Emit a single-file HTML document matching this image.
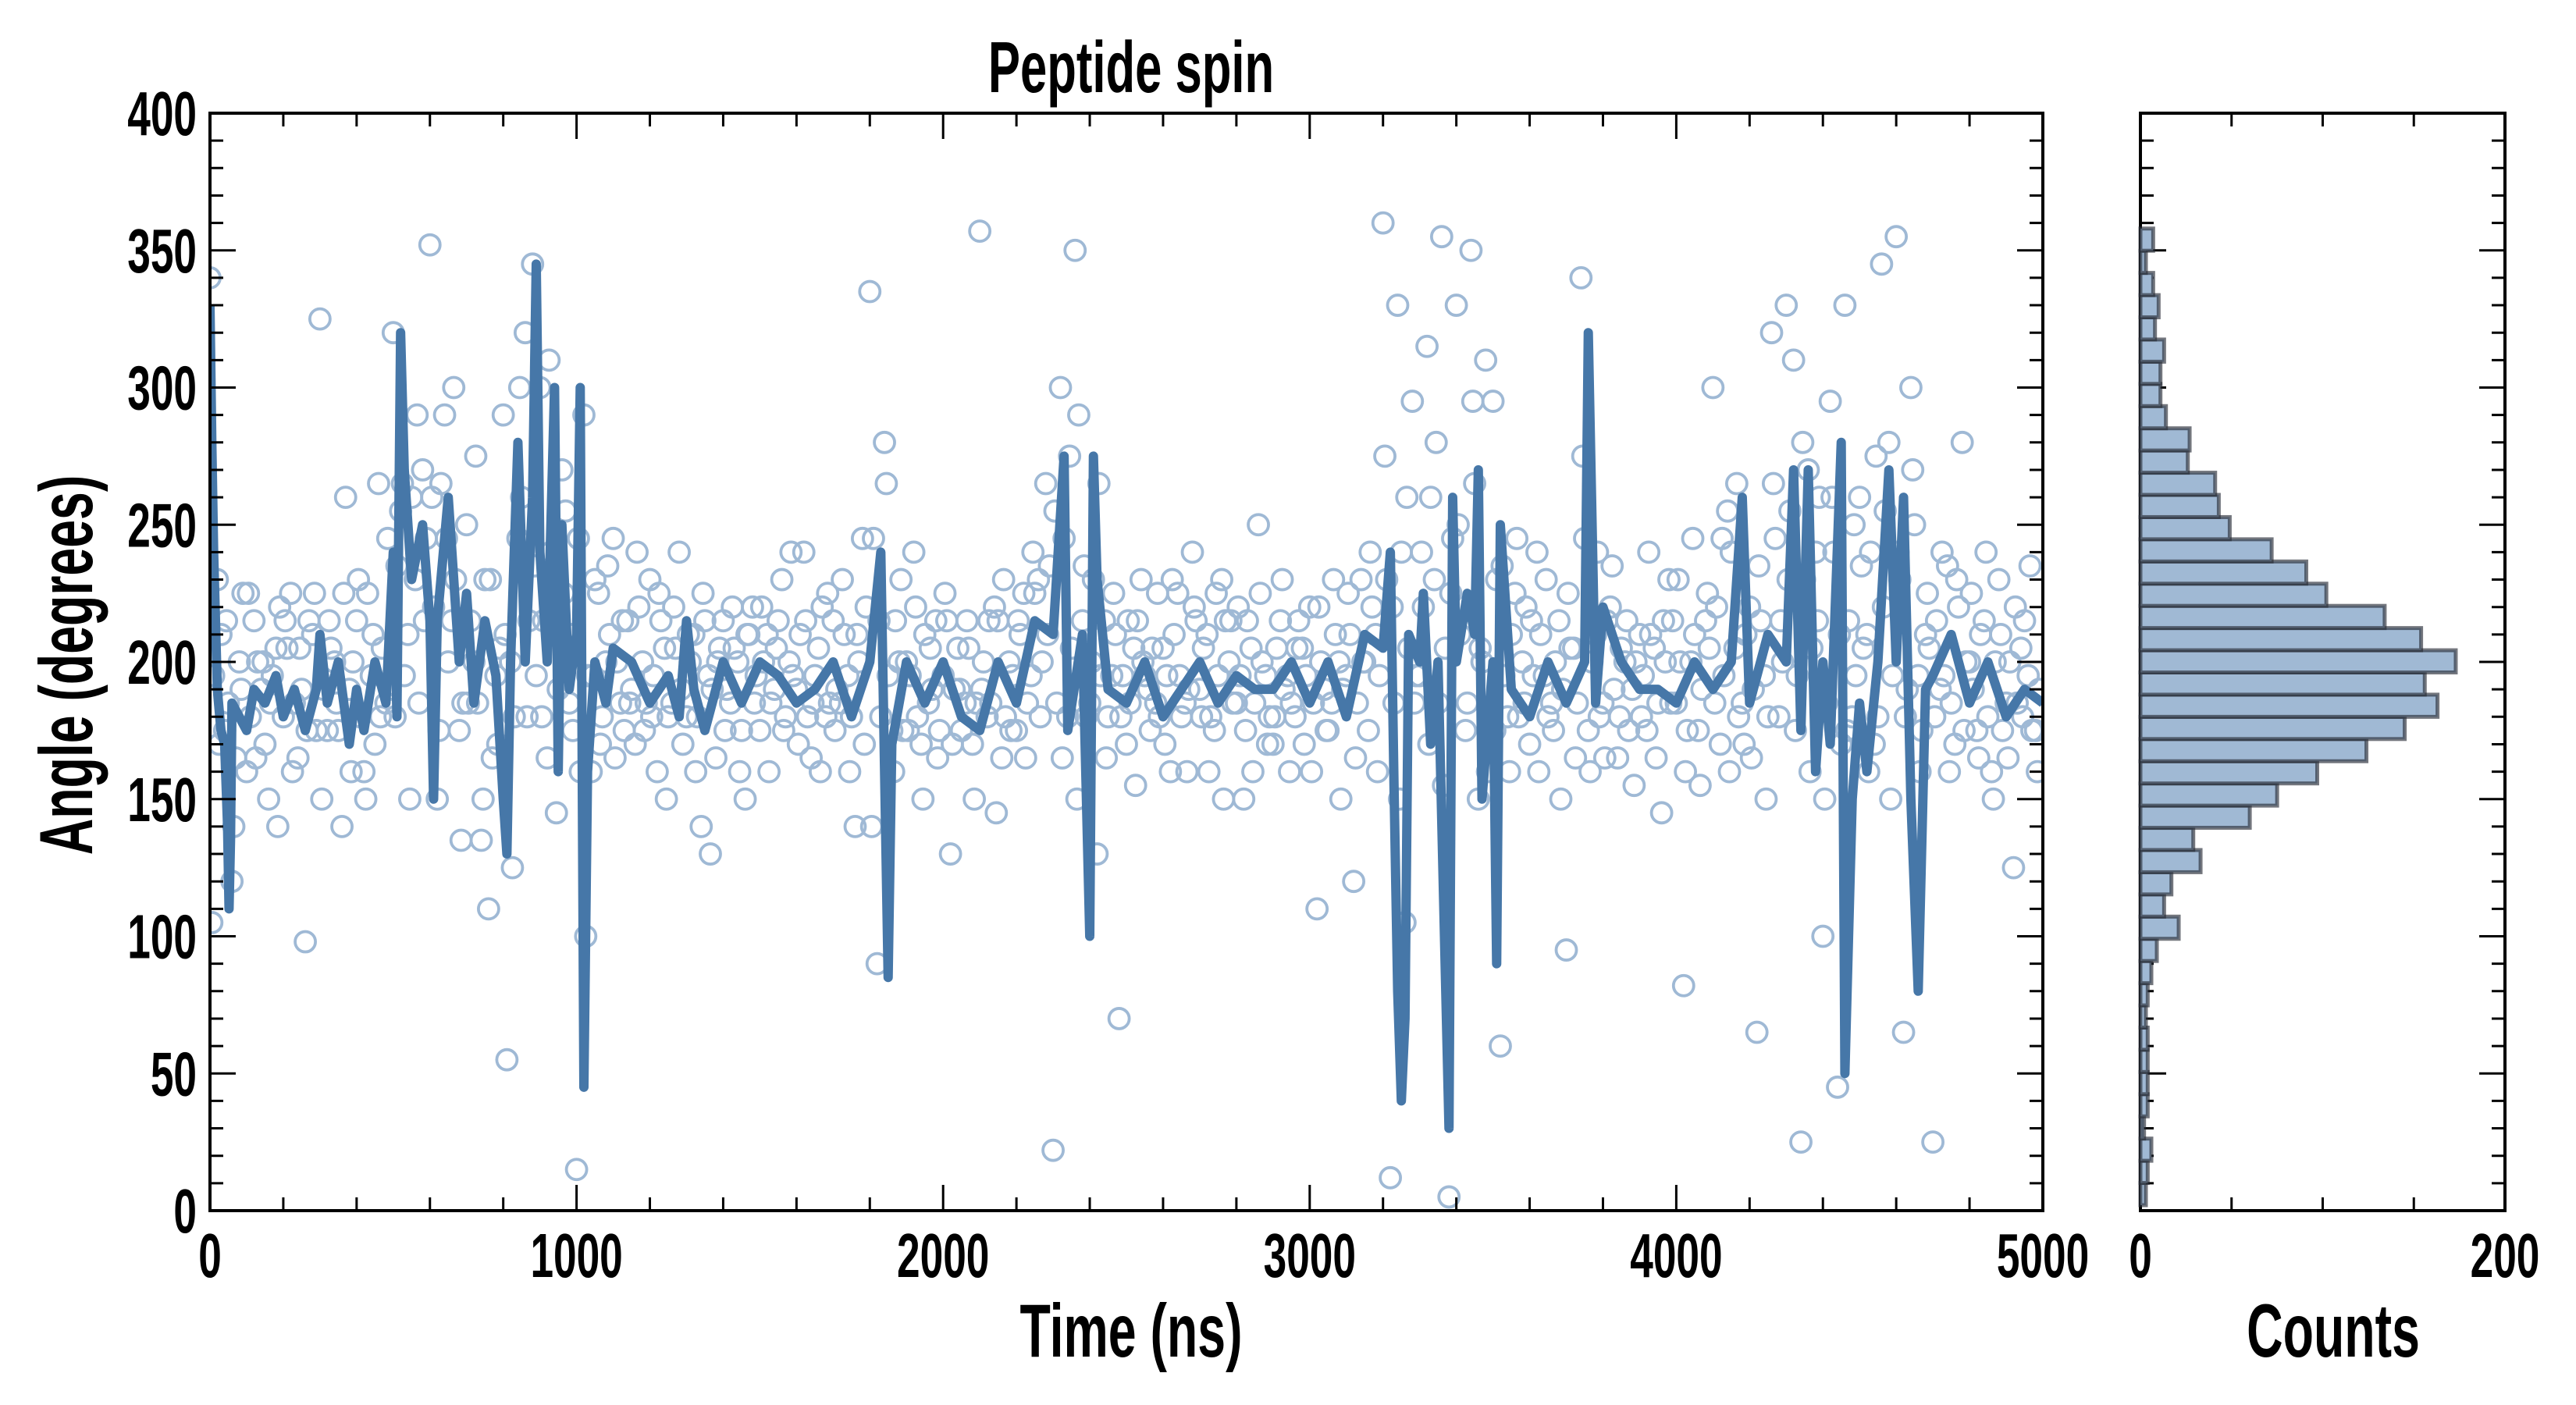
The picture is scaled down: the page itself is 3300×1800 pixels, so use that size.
<!DOCTYPE html>
<html><head><meta charset="utf-8"><style>
html,body{margin:0;padding:0;background:#fff;}
svg{display:block;}
text{font-family:"Liberation Sans Narrow","Liberation Sans",sans-serif;font-weight:bold;fill:#000;}
</style></head><body>
<svg id="chart" width="3300" height="1800" viewBox="0 0 3300 1800" xmlns="http://www.w3.org/2000/svg">
<g id="main-plot"></g>
<g id="hist-plot"></g>
<g id="labels"></g>
</svg>
<script>
// ---- data ----
const scatterStep = 20;
const scatterA1 = [340,230,175,120,200, 160,215,190,150,205, 180,225,165,98,210, 325,175,200,140,190, 215,160,195,265,185,
320,255,210,230,270, 352,150,290,215,175, 250,200,135,110,195, 290,200,245,320,345, 300,165,230,270,185,
15,290,160,225,200, 245,185,215,170,200, 230,160,205,185,240, 180,210,140,195,165, 215,185,200,150,220,
175,210,190,230,200, 190,240,165,205,180, 215,185,195,140,245, 335,90,280,175,200, 200,240,170,185,215,
195,130,205,185,170, 357,180,220,165,200, 175,225,195,230,265, 22,300,180,350,215, 185,130,215,195,70,
170,205,230,190,185, 205,160,225,185,240, 190,210,175,230,200, 185,150,205,250,195, 170,215,195,180,205,
220,110,190,185,200, 195,120,230,175,210, 360,12,330,105,295, 195,315,230,355,5, 330,220,350,150,310,
295,60,180,225,200, 170,240,195,185,215, 95,205,340,175,210, 185,220,165,200,190, 210,175,205,145,230,
185,82,200,175,215, 300,170,255,205,185, 220,65,195,320,180, 330,310,25,270,240, 100,295,45,330,180,
260,210,170,345,280, 355,65,300,195,210, 25,190,235,170,280, 200,175,215,160,230, 185,125,205,195,175];
const scatterA2 = [195,210,185,165,225, 180,200,170,195,220, 205,185,190,215,175, 190,205,175,260,200, 180,225,170,205,190,
235,195,260,185,245, 220,265,200,230,185, 215,185,230,165,205, 55,180,260,215,195, 215,240,190,255,175,
160,195,230,180,210, 200,175,190,220,185, 195,215,180,205,170, 200,180,215,190,205, 190,205,175,210,195,
200,185,215,180,195, 210,180,195,220,185, 190,210,180,200,220, 245,180,195,215,175, 195,180,210,190,175,
215,190,175,205,185, 200,185,215,180,195, 210,185,225,200,235, 185,245,205,290,180, 230,195,180,210,195,
185,215,195,205,180, 195,210,180,190,215, 205,180,195,215,185, 195,215,185,200,180, 205,190,185,215,195,
185,200,175,210,190, 210,185,200,220,195, 230,185,240,205,195, 220,260,185,205,245, 210,185,265,200,175,
230,195,210,180,220, 195,210,180,200,190, 205,185,245,200,180, 215,190,205,175,200, 195,210,185,200,215,
200,175,210,190,205, 220,195,240,180,210, 190,215,180,245,200, 255,195,230,205,260, 185,240,170,215,195,
205,240,180,255,195, 230,190,250,175,205, 215,195,185,220,200, 190,210,180,200,175, 200,185,215,175,190];
const scatterA3 = [105,170,215,140,190, 225,165,200,185,140, 215,160,205,175,225, 150,215,185,225,160, 230,150,210,180,245,
180,265,150,290,215, 260,175,245,300,135, 185,275,150,230,170, 210,125,300,180,235, 180,310,145,225,210,
245,100,195,170,235, 165,215,185,240,175, 180,225,150,220,190, 210,160,225,130,200, 175,220,160,210,185,
220,160,205,175,240, 170,215,185,160,225, 175,230,160,210,170, 140,215,265,160,230, 175,220,150,205,165,
225,170,190,215,150, 190,215,145,230,175, 215,165,240,180,210, 255,165,275,150,235, 200,265,165,225,180,
215,155,200,175,225, 170,230,195,160,220, 180,160,225,150,215, 220,175,160,225,170, 180,230,160,205,170,
160,220,175,230,150, 225,165,200,240,160, 275,220,150,260,185, 240,170,280,155,225, 250,175,295,205,160,
175,235,160,245,185, 215,160,230,175,150, 225,165,275,160,240, 165,235,180,215,155, 180,240,165,215,185,
230,160,245,155,225, 185,245,160,265,170, 165,235,150,265,215, 230,175,280,160,215, 150,260,210,175,250,
235,160,275,220,150, 240,180,270,160,225, 180,240,160,230,175, 225,165,240,150,210, 165,220,180,235,160];
const lineT = [0,5,10,20,30,40,48,52,56,60,80,100,120,150,180,200,230,260,290,300,320,350,380,400,420,450,480,500,510,520,530,550,580,600,610,620,650,680,700,720,750,780,800,810,820,840,860,880,890,900,920,940,950,960,980,1000,1010,1020,1030,1050,1080,1100,1150,1200,1250,1280,1300,1320,1350,1400,1450,1500,1550,1600,1650,1700,1750,1800,1830,1850,1860,1900,1950,2000,2050,2100,2150,2200,2250,2300,2330,2340,2380,2400,2410,2420,2450,2500,2550,2600,2650,2700,2750,2800,2850,2900,2950,3000,3050,3100,3150,3200,3220,3230,3240,3250,3260,3270,3300,3310,3330,3350,3380,3390,3400,3430,3450,3460,3470,3500,3510,3520,3550,3600,3650,3700,3750,3760,3780,3800,3850,3900,3950,4000,4050,4100,4150,4180,4200,4250,4300,4320,4340,4360,4380,4400,4420,4450,4460,4480,4500,4520,4550,4580,4600,4620,4640,4660,4680,4700,4750,4800,4850,4900,4950,5000];
const lineA = [330,280,240,190,175,170,140,110,135,185,180,175,190,185,195,180,190,175,190,210,185,200,170,190,175,200,185,240,180,320,270,230,250,215,150,215,260,200,225,185,215,195,150,130,200,280,200,260,345,240,200,300,160,250,190,210,300,45,160,200,185,205,200,185,195,180,215,190,175,200,185,200,195,185,190,200,180,200,240,85,170,200,185,200,180,175,200,185,215,210,275,175,210,100,275,230,190,185,200,180,190,200,185,195,190,190,200,185,200,180,210,205,240,155,80,40,70,210,200,225,170,200,30,260,200,225,210,270,150,200,90,250,190,180,200,185,200,320,185,220,200,190,190,185,200,190,200,260,185,210,200,270,175,270,160,200,170,280,50,150,185,160,200,270,200,260,150,80,190,195,210,185,200,180,190,185];
const histStart = 2;
const histBinWidth = 8.09;
const histCounts = [3,4,6,2,4,4,4,4,3,4,6,9,21,13,17,33,29,60,75,97,124,145,163,156,173,154,134,102,91,72,49,43,41,26,27,14,11,11,13,8,10,7,3,7];
const yTickValues = [0,50,100,150,200,250,300,350,400];
const xTickValues = [0,1000,2000,3000,4000,5000];
const histXTickLabels = [0,200];

// ---- scales ----
const L=269,R=2617,T=145,B=1551, HL=2742, HR=3209;
const x = t => L + t/5000*(R-L);
const y = a => B - a/400*(B-T);
const hx = c => HL + c/200*(HR-HL);
const NS="http://www.w3.org/2000/svg";
function mk(tag, parent){const e=document.createElementNS(NS,tag);parent.appendChild(e);return e;}
const main=document.getElementById('main-plot');
const hist=document.getElementById('hist-plot');
const lab=document.getElementById('labels');

const defs=mk('defs',document.getElementById('chart'));
const cp=mk('clipPath',defs);cp.setAttribute('id','clipMain');
const cr=mk('rect',cp);cr.setAttribute('x',L);cr.setAttribute('y',T);cr.setAttribute('width',R-L);cr.setAttribute('height',B-T);

const pts=mk('g',main);


pts.setAttribute('clip-path','url(#clipMain)');
function addPts(arr, off){
  arr.forEach((a,i)=>{
    const c=mk('circle',pts);
    
    
    c.setAttribute('cx',x(i*scatterStep+off));c.setAttribute('cy',y(a));c.setAttribute('r',13);
    c.setAttribute('fill','none');c.setAttribute('stroke','#9fb9d5');c.setAttribute('stroke-width',3.8);
  });
}
addPts(scatterA1,0);addPts(scatterA2,10);addPts(scatterA3,5);

const line=mk('polyline',main);


line.setAttribute('clip-path','url(#clipMain)');
line.setAttribute('points',lineT.map((t,i)=>x(t)+','+y(lineA[i])).join(' '));
line.setAttribute('fill','none');line.setAttribute('stroke','#4677a8');line.setAttribute('stroke-width',12);line.setAttribute('stroke-linejoin','round');

histCounts.forEach((c,i)=>{
  const a0=histStart+i*histBinWidth, a1=a0+histBinWidth;
  const r=mk('rect',hist);
  
  
  r.setAttribute('x',HL);r.setAttribute('y',y(a1));r.setAttribute('width',Math.max(hx(c)-HL,0.5));r.setAttribute('height',y(a0)-y(a1));
  r.setAttribute('fill','#a0b9d4');r.setAttribute('stroke','rgba(40,45,55,0.65)');r.setAttribute('stroke-width',5);
});

function tick(parent,x1,y1,x2,y2){const l=mk('line',parent);l.setAttribute('x1',x1);l.setAttribute('y1',y1);l.setAttribute('x2',x2);l.setAttribute('y2',y2);l.setAttribute('stroke','#000');l.setAttribute('stroke-width',3);}
const tk=mk('g',main);


for(let t=0;t<=5000;t+=200){const len=t%1000===0?33:17;tick(tk,x(t),B,x(t),B-len);tick(tk,x(t),T,x(t),T+len);}
for(let a=0;a<=400;a+=10){const len=a%50===0?33:17;
  tick(tk,L,y(a),L+len,y(a));tick(tk,R,y(a),R-len,y(a));
  tick(tk,HL,y(a),HL+len,y(a));tick(tk,HR,y(a),HR-len,y(a));}
for(let c=50;c<200;c+=50){tick(tk,hx(c),B,hx(c),B-17);tick(tk,hx(c),T,hx(c),T+17);}
[[L,R],[HL,HR]].forEach(([a,b],k)=>{const f=mk('rect',main);
  
  
  f.setAttribute('x',a);f.setAttribute('y',T);f.setAttribute('width',b-a);f.setAttribute('height',B-T);f.setAttribute('fill','none');f.setAttribute('stroke','#000');f.setAttribute('stroke-width',4);});

function txt(str,px,py,anchor,size,name,rot){
  const g=mk('g',lab);
  g.setAttribute('transform','translate('+px+','+py+')'+(rot?' rotate('+rot+')':'')+' scale(0.7,1.05)');
  const t=mk('text',g);
  
  
  t.setAttribute('text-anchor',anchor);t.setAttribute('font-size',size);t.textContent=str;
}
yTickValues.forEach(v=>txt(String(v),252,y(v)+28,'end',76,'y-tick-label'));
xTickValues.forEach(v=>txt(String(v),x(v),1636,'middle',76,'x-tick-label'));
histXTickLabels.forEach(v=>txt(String(v),hx(v),1636,'middle',76,'hist-x-tick-label'));
txt('Peptide spin',1449,118,'middle',88,'chart-title');
txt('Time (ns)',1449,1738,'middle',92,'x-axis-title');
txt('Counts',2989,1738,'middle',92,'hist-x-axis-title');
txt('Angle (degrees)',118,852,'middle',92,'y-axis-title',-90);
</script>
</body></html>
